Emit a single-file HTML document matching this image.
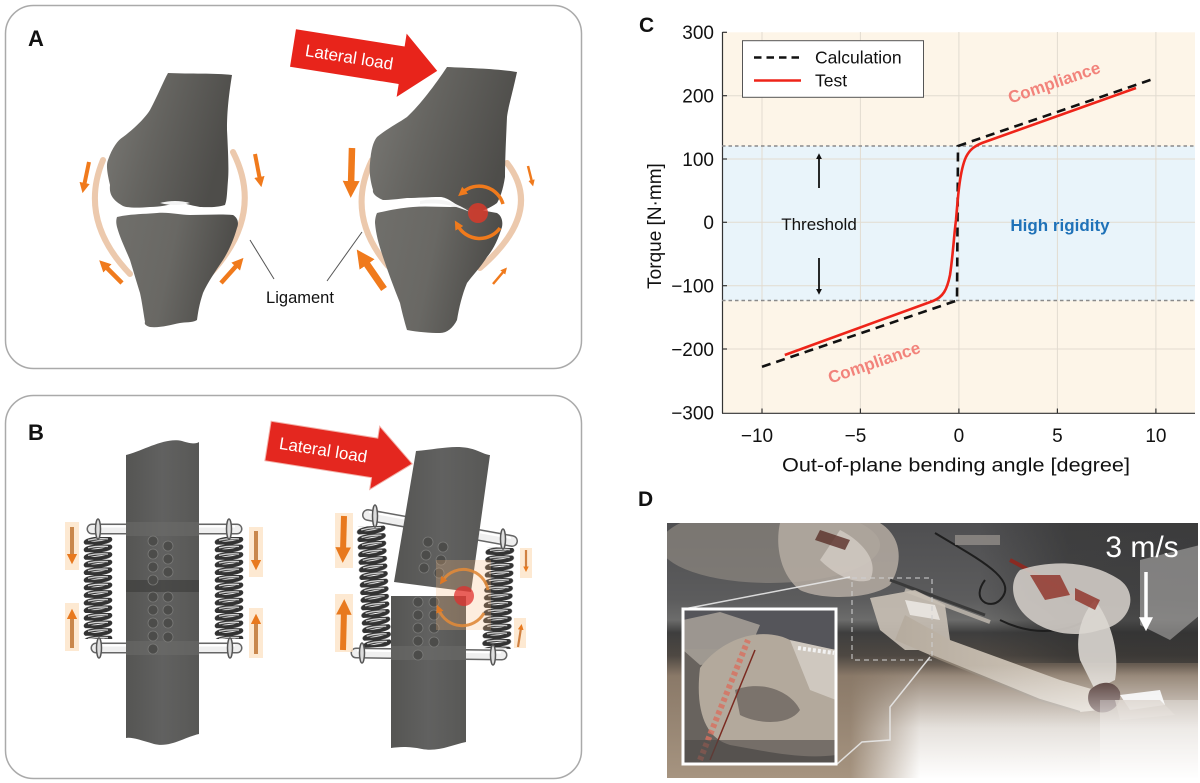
<!DOCTYPE html>
<html><head><meta charset="utf-8">
<style>
html,body{margin:0;padding:0;background:#fff;}
svg{display:block;}
text{font-family:"Liberation Sans",Arial,sans-serif;}
</style></head>
<body>
<svg width="1200" height="783" viewBox="0 0 1200 783" xmlns="http://www.w3.org/2000/svg">
<defs>
  <linearGradient id="bone" x1="0" y1="0" x2="1" y2="0.3">
    <stop offset="0" stop-color="#7c7b77"/>
    <stop offset="0.45" stop-color="#666561"/>
    <stop offset="1" stop-color="#4e4d4a"/>
  </linearGradient>
  <linearGradient id="bone2" x1="0" y1="0" x2="1" y2="0.2">
    <stop offset="0" stop-color="#706f6b"/>
    <stop offset="0.5" stop-color="#696864"/>
    <stop offset="1" stop-color="#4c4b48"/>
  </linearGradient>
  <linearGradient id="rod" x1="0" y1="0" x2="1" y2="0">
    <stop offset="0" stop-color="#555553"/>
    <stop offset="0.5" stop-color="#616160"/>
    <stop offset="1" stop-color="#585856"/>
  </linearGradient>
  <marker id="ah" viewBox="0 0 10 10" refX="3" refY="5" markerWidth="2.6" markerHeight="2.6" orient="auto" markerUnits="strokeWidth">
    <path d="M0,0 L10,5 L0,10 z" fill="#f07a1c"/>
  </marker>
  <marker id="ahb" viewBox="0 0 10 10" refX="3" refY="5" markerWidth="2.6" markerHeight="2.6" orient="auto" markerUnits="strokeWidth">
    <path d="M0,0 L10,5 L0,10 z" fill="#e8791e"/>
  </marker>
  <marker id="ahk" viewBox="0 0 10 10" refX="2" refY="5" markerWidth="6" markerHeight="6" orient="auto" markerUnits="userSpaceOnUse">
    <path d="M0,0 L10,5 L0,10 z" fill="#111"/>
  </marker>
  <marker id="ahw" viewBox="0 0 10 10" refX="2" refY="5" markerWidth="4" markerHeight="4" orient="auto" markerUnits="strokeWidth">
    <path d="M0,0 L10,5 L0,10 z" fill="#fff"/>
  </marker>
  <pattern id="coil" x="0" y="0" width="30" height="7.6" patternUnits="userSpaceOnUse">
    <ellipse cx="15" cy="3.8" rx="12.5" ry="2.4" transform="rotate(-7 15 3.8)" fill="none" stroke="#333" stroke-width="3.8"/>
    <path d="M5,3.2 Q15,0.9 25,1.9" fill="none" stroke="#d8d8d8" stroke-width="1.3"/>
  </pattern>
  <linearGradient id="photoBg" x1="0" y1="0" x2="0" y2="1">
    <stop offset="0" stop-color="#4f4f51"/>
    <stop offset="0.3" stop-color="#5c5c5d"/>
    <stop offset="0.38" stop-color="#6c6c6b"/>
    <stop offset="0.43" stop-color="#3e3e3e"/>
    <stop offset="0.52" stop-color="#4e4842"/>
    <stop offset="0.6" stop-color="#8a7968"/>
    <stop offset="1" stop-color="#a69480"/>
  </linearGradient>
  <linearGradient id="darkTR" x1="0" y1="0" x2="1" y2="0">
    <stop offset="0" stop-color="#2e2e2e" stop-opacity="0"/>
    <stop offset="0.4" stop-color="#2e2e2e" stop-opacity="0.55"/>
    <stop offset="1" stop-color="#2e2e2e" stop-opacity="0.6"/>
  </linearGradient>
  <linearGradient id="fadeV" x1="0" y1="0" x2="0" y2="1">
    <stop offset="0" stop-color="#fff" stop-opacity="0"/>
    <stop offset="0.55" stop-color="#fff" stop-opacity="0.75"/>
    <stop offset="1" stop-color="#fff" stop-opacity="1"/>
  </linearGradient>
  <linearGradient id="fadeH" x1="0" y1="0" x2="1" y2="0">
    <stop offset="0" stop-color="#000"/>
    <stop offset="0.2" stop-color="#fff"/>
    <stop offset="1" stop-color="#fff"/>
  </linearGradient>
  <mask id="fadeMask"><rect x="850" y="660" width="350" height="130" fill="url(#fadeH)"/></mask>
  <clipPath id="photoClip"><rect x="667" y="523" width="531" height="255"/></clipPath>
  <clipPath id="insetClip"><rect x="683" y="609" width="153" height="155"/></clipPath>
  <linearGradient id="legG" x1="0" y1="0" x2="1" y2="0">
    <stop offset="0" stop-color="#b5ab9e"/>
    <stop offset="1" stop-color="#d2c8bb"/>
  </linearGradient>
</defs>

<!-- ================= PANEL A ================= -->
<rect x="5.5" y="5.5" width="576" height="363" rx="28" ry="28" fill="#fff" stroke="#aaa" stroke-width="1.5"/>
<text x="28" y="46" font-size="22" font-weight="bold" fill="#111">A</text>

<path d="M103,160 Q78,220 130,274" fill="none" stroke="#ecc9ad" stroke-width="6" stroke-linecap="round"/>
<path d="M233,152 Q265,215 210,274" fill="none" stroke="#ecc9ad" stroke-width="6" stroke-linecap="round"/>
<path d="M168,73 C190,74 215,73 232,75 C228,100 227,115 227,130 C228,150 229,170 228,180 C227,193 227,200 225,205 C215,208 205,207 200,207 C188,205 182,202 177,203 C168,205 160,207 150,207 C138,208 128,208 123,206 C113,200 109,195 110,185 C107,172 106,165 108,160 C112,148 118,140 123,137 C135,128 145,118 150,110 C158,95 163,82 168,73 Z" fill="url(#bone)"/>
<path d="M117,217 C130,214 145,214 157,213 C170,212 180,215 190,215 C205,215 220,214 233,215 C238,218 239,223 237,228 C233,242 228,252 223,260 C215,272 208,282 203,293 C199,305 198,313 197,320 C192,323 185,322 180,323 C170,325 160,328 150,327 C146,326 144,324 145,322 C143,310 142,302 140,293 C136,280 133,270 130,260 C125,248 120,238 117,227 C116,223 116,220 117,217 Z" fill="url(#bone2)"/>
<path d="M160,203 Q175,199 190,203 Q175,207 160,203 Z" fill="#f4f4f4"/>
<line x1="89" y1="162" x2="84" y2="186" stroke="#f07a1c" stroke-width="4" marker-end="url(#ah)"/>
<line x1="122" y1="283" x2="105" y2="266" stroke="#f07a1c" stroke-width="4.5" marker-end="url(#ah)"/>
<line x1="255" y1="154" x2="260" y2="180" stroke="#f07a1c" stroke-width="4" marker-end="url(#ah)"/>
<line x1="221" y1="283" x2="238" y2="264" stroke="#f07a1c" stroke-width="4.5" marker-end="url(#ah)"/>

<path d="M372,160 Q345,215 388,266" fill="none" stroke="#ecc9ad" stroke-width="6" stroke-linecap="round"/>
<path d="M507,163 Q545,212 480,268" fill="none" stroke="#ecc9ad" stroke-width="6" stroke-linecap="round"/>
<path d="M447,67 C470,68 500,69 517,72 C512,95 508,108 507,117 C506,140 505,160 505,177 C503,190 500,198 497,203 C490,208 482,212 470,213 C465,210 463,208 460,207 C450,200 445,197 440,197 C428,197 418,198 407,198 C398,199 390,200 383,200 C376,197 372,193 373,190 C370,180 369,170 370,163 C371,150 373,142 377,137 C388,128 400,122 407,117 C420,105 435,85 447,67 Z" fill="url(#bone)"/>
<path d="M377,213 C390,210 400,208 413,207 C425,206 438,207 450,207 C465,206 480,210 497,213 C502,216 503,222 502,227 C498,240 493,250 487,257 C480,268 472,276 467,283 C462,295 459,308 457,320 C453,328 447,333 440,333 C430,333 418,332 407,330 C404,320 402,312 400,303 C394,288 388,272 383,257 C379,245 376,235 375,223 C375,219 376,215 377,213 Z" fill="url(#bone2)"/>
<path d="M420,201 Q445,195 470,212 Q445,201 420,204 Z" fill="#f4f4f4"/>
<line x1="352" y1="148" x2="351" y2="186" stroke="#f07a1c" stroke-width="6.5" marker-end="url(#ah)"/>
<line x1="384" y1="289" x2="364" y2="260" stroke="#f07a1c" stroke-width="7" marker-end="url(#ah)"/>
<line x1="528" y1="166" x2="532" y2="182" stroke="#f07a1c" stroke-width="2.5" marker-end="url(#ah)"/>
<line x1="493" y1="284" x2="504" y2="271" stroke="#f07a1c" stroke-width="2.5" marker-end="url(#ah)"/>
<circle cx="478" cy="213" r="10" fill="#d83a2a" opacity="0.85"/>
<path d="M503,204 A25,25 0 0 0 463,192" fill="none" stroke="#f07a1c" stroke-width="3.5" marker-end="url(#ah)"/>
<path d="M500,228 A25,25 0 0 1 458,226" fill="none" stroke="#f07a1c" stroke-width="3.5" marker-end="url(#ah)"/>

<line x1="250" y1="240" x2="274" y2="279" stroke="#555" stroke-width="1"/>
<line x1="362" y1="232" x2="327" y2="281" stroke="#555" stroke-width="1"/>
<text x="300" y="303" font-size="16.5" fill="#111" text-anchor="middle">Ligament</text>

<g transform="translate(293,48) rotate(9)">
  <path d="M0,-19 L110,-19 L110,-32 L146,0 L110,32 L110,19 L0,19 Z" fill="#e8241b"/>
  <text x="57" y="6" font-size="17" fill="#fff" text-anchor="middle">Lateral load</text>
</g>

<!-- ================= PANEL B ================= -->
<rect x="5.5" y="395.5" width="576" height="383" rx="28" ry="28" fill="#fff" stroke="#aaa" stroke-width="1.5"/>
<text x="28" y="440" font-size="22" font-weight="bold" fill="#111">B</text>

<g transform="translate(83,537)"><rect x="0" y="0" width="30" height="102" fill="url(#coil)"/></g>
<g transform="translate(214,537)"><rect x="0" y="0" width="30" height="102" fill="url(#coil)"/></g>
<line x1="92" y1="529" x2="237" y2="529" stroke="#666" stroke-width="11" stroke-linecap="round"/>
<line x1="92" y1="529" x2="237" y2="529" stroke="#efefef" stroke-width="8" stroke-linecap="round"/>
<line x1="94" y1="526.5" x2="235" y2="526.5" stroke="#fff" stroke-width="2"/>
<line x1="96" y1="648" x2="237" y2="648" stroke="#666" stroke-width="11" stroke-linecap="round"/>
<line x1="96" y1="648" x2="237" y2="648" stroke="#efefef" stroke-width="8" stroke-linecap="round"/>
<line x1="98" y1="645.5" x2="235" y2="645.5" stroke="#fff" stroke-width="2"/>
<ellipse cx="98" cy="529" rx="2.5" ry="10" fill="#ddd" stroke="#555" stroke-width="1.5"/>
<ellipse cx="229" cy="529" rx="2.5" ry="10" fill="#ddd" stroke="#555" stroke-width="1.5"/>
<ellipse cx="99" cy="648" rx="2.5" ry="10" fill="#ddd" stroke="#555" stroke-width="1.5"/>
<ellipse cx="230" cy="648" rx="2.5" ry="10" fill="#ddd" stroke="#555" stroke-width="1.5"/>
<path d="M126,455 C145,450 165,437 182,441 C192,444 196,444 199,442 L199,734 C185,737 170,748 154,744 C140,740 132,737 126,738 Z" fill="url(#rod)"/>
<rect x="126" y="522" width="73" height="14" fill="#6e6e6c" opacity="0.5"/>
<rect x="126" y="641" width="73" height="14" fill="#6e6e6c" opacity="0.5"/>
<rect x="126" y="580" width="73" height="12" fill="#3a3a38" opacity="0.6"/>
<g fill="#4c4c4a" stroke="#7a7a78" stroke-width="0.8">
  <circle cx="153" cy="541" r="5"/><circle cx="168" cy="546" r="5"/>
  <circle cx="153" cy="554" r="5"/><circle cx="168" cy="559" r="5"/>
  <circle cx="153" cy="567" r="5"/><circle cx="168" cy="572" r="5"/>
  <circle cx="153" cy="580" r="5"/>
  <circle cx="153" cy="597" r="5"/><circle cx="168" cy="597" r="5"/>
  <circle cx="153" cy="610" r="5"/><circle cx="168" cy="610" r="5"/>
  <circle cx="153" cy="623" r="5"/><circle cx="168" cy="623" r="5"/>
  <circle cx="153" cy="636" r="5"/><circle cx="168" cy="637" r="5"/>
  <circle cx="153" cy="649" r="5"/>
</g>
<rect x="65" y="522" width="14" height="48" fill="#fce3c7" opacity="0.8"/>
<rect x="65" y="603" width="14" height="48" fill="#fce3c7" opacity="0.8"/>
<rect x="249" y="527" width="14" height="50" fill="#fce3c7" opacity="0.8"/>
<rect x="249" y="608" width="14" height="50" fill="#fce3c7" opacity="0.8"/>
<line x1="72" y1="527" x2="72" y2="557" stroke="#c9874c" stroke-width="4" marker-end="url(#ahb)"/>
<line x1="72" y1="648" x2="72" y2="616" stroke="#c9874c" stroke-width="4" marker-end="url(#ahb)"/>
<line x1="256" y1="531" x2="256" y2="563" stroke="#c9874c" stroke-width="4" marker-end="url(#ahb)"/>
<line x1="256" y1="654" x2="256" y2="621" stroke="#c9874c" stroke-width="4" marker-end="url(#ahb)"/>

<g transform="translate(356,527) rotate(-3)"><rect x="0" y="0" width="30" height="121" fill="url(#coil)"/></g>
<g transform="translate(485,547) rotate(2)"><rect x="0" y="0" width="30" height="101" fill="url(#coil)"/></g>
<line x1="368" y1="515" x2="512" y2="541" stroke="#666" stroke-width="12" stroke-linecap="round"/>
<line x1="368" y1="515" x2="512" y2="541" stroke="#efefef" stroke-width="9" stroke-linecap="round"/>
<line x1="369" y1="512" x2="511" y2="538" stroke="#fff" stroke-width="2"/>
<line x1="356" y1="653" x2="502" y2="655" stroke="#666" stroke-width="11" stroke-linecap="round"/>
<line x1="356" y1="653" x2="502" y2="655" stroke="#efefef" stroke-width="8" stroke-linecap="round"/>
<line x1="357" y1="650.5" x2="501" y2="652.5" stroke="#fff" stroke-width="2"/>
<ellipse cx="375" cy="516" rx="2.5" ry="11" fill="#ddd" stroke="#555" stroke-width="1.5"/>
<ellipse cx="503" cy="539" rx="2.5" ry="10" fill="#ddd" stroke="#555" stroke-width="1.5"/>
<ellipse cx="362" cy="653" rx="2.5" ry="10" fill="#ddd" stroke="#555" stroke-width="1.5"/>
<ellipse cx="493" cy="655" rx="2.5" ry="10" fill="#ddd" stroke="#555" stroke-width="1.5"/>
<path d="M416,451 C440,449 460,443 478,451 C485,454 488,455 490,455 L471,592 L394,582 Z" fill="url(#rod)"/>
<path d="M391,596 L466,596 L466,742 C452,745 438,752 422,749 C408,746 398,747 391,748 Z" fill="url(#rod)"/>
<rect x="391" y="646" width="75" height="14" fill="#6e6e6c" opacity="0.5"/>
<g fill="#4c4c4a" stroke="#7a7a78" stroke-width="0.8">
  <circle cx="428" cy="542" r="5"/><circle cx="443" cy="547" r="5"/>
  <circle cx="426" cy="555" r="5"/><circle cx="441" cy="560" r="5"/>
  <circle cx="424" cy="568" r="5"/><circle cx="439" cy="573" r="5"/>
  <circle cx="418" cy="602" r="5"/><circle cx="434" cy="602" r="5"/>
  <circle cx="418" cy="615" r="5"/><circle cx="434" cy="615" r="5"/>
  <circle cx="418" cy="628" r="5"/><circle cx="434" cy="628" r="5"/>
  <circle cx="418" cy="641" r="5"/><circle cx="434" cy="642" r="5"/>
  <circle cx="418" cy="655" r="5"/>
</g>
<rect x="335" y="513" width="18" height="55" fill="#fce3c7" opacity="0.8"/>
<rect x="335" y="594" width="18" height="58" fill="#fce3c7" opacity="0.8"/>
<rect x="520" y="548" width="12" height="30" fill="#fce3c7" opacity="0.8"/>
<rect x="514" y="618" width="12" height="30" fill="#fce3c7" opacity="0.8"/>
<line x1="344" y1="516" x2="343" y2="552" stroke="#e8791e" stroke-width="6" marker-end="url(#ahb)"/>
<line x1="343" y1="650" x2="344" y2="610" stroke="#e8791e" stroke-width="6" marker-end="url(#ahb)"/>
<line x1="526" y1="550" x2="526" y2="568" stroke="#d08040" stroke-width="2.2" marker-end="url(#ahb)"/>
<line x1="518" y1="647" x2="521" y2="628" stroke="#d08040" stroke-width="2.2" marker-end="url(#ahb)"/>
<rect x="436" y="560" width="55" height="70" fill="#f6b87a" opacity="0.25"/>
<circle cx="464" cy="596" r="10" fill="#e0302e" opacity="0.75"/>
<path d="M488,590 A25,25 0 0 0 443,580" fill="none" stroke="#e08a3a" stroke-width="3" marker-end="url(#ahb)" opacity="0.9"/>
<path d="M484,613 A25,25 0 0 1 439,610" fill="none" stroke="#e08a3a" stroke-width="3" marker-end="url(#ahb)" opacity="0.9"/>

<g transform="translate(268,441) rotate(9)">
  <path d="M0,-20 L108,-20 L108,-32 L146,0 L108,32 L108,20 L0,20 Z" fill="#e4271f" stroke="#f3b0a8" stroke-width="1"/>
  <text x="56" y="6" font-size="17" fill="#fff" text-anchor="middle">Lateral load</text>
</g>

<!-- ================= PANEL C ================= -->
<text x="639" y="32" font-size="21" font-weight="bold" fill="#111">C</text>
<rect x="722.5" y="32.3" width="472.5" height="381" fill="#fdf5e8"/>
<rect x="722.5" y="146" width="472.5" height="154.5" fill="#e9f4fa"/>
<g stroke="#e2dbd0" stroke-width="1">
  <line x1="762" y1="32" x2="762" y2="413"/>
  <line x1="860.4" y1="32" x2="860.4" y2="413"/>
  <line x1="958.9" y1="32" x2="958.9" y2="413"/>
  <line x1="1057.4" y1="32" x2="1057.4" y2="413"/>
  <line x1="1155.9" y1="32" x2="1155.9" y2="413"/>
  <line x1="722" y1="95.7" x2="1195" y2="95.7"/>
  <line x1="722" y1="159" x2="1195" y2="159"/>
  <line x1="722" y1="222.3" x2="1195" y2="222.3"/>
  <line x1="722" y1="285.7" x2="1195" y2="285.7"/>
  <line x1="722" y1="349" x2="1195" y2="349"/>
</g>
<line x1="722.5" y1="32" x2="722.5" y2="413.3" stroke="#333" stroke-width="1.2"/>
<line x1="722" y1="413.3" x2="1195" y2="413.3" stroke="#333" stroke-width="1.2"/>
<g stroke="#333" stroke-width="1.2">
  <line x1="722.5" y1="32.3" x2="727" y2="32.3"/>
  <line x1="722.5" y1="95.7" x2="727" y2="95.7"/>
  <line x1="722.5" y1="159" x2="727" y2="159"/>
  <line x1="722.5" y1="222.3" x2="727" y2="222.3"/>
  <line x1="722.5" y1="285.7" x2="727" y2="285.7"/>
  <line x1="722.5" y1="349" x2="727" y2="349"/>
  <line x1="762" y1="413" x2="762" y2="408.5"/>
  <line x1="860.4" y1="413" x2="860.4" y2="408.5"/>
  <line x1="958.9" y1="413" x2="958.9" y2="408.5"/>
  <line x1="1057.4" y1="413" x2="1057.4" y2="408.5"/>
  <line x1="1155.9" y1="413" x2="1155.9" y2="408.5"/>
</g>
<line x1="722" y1="146" x2="1195" y2="146" stroke="#8a8a8a" stroke-width="1.6" stroke-dasharray="3.5,3"/>
<line x1="722" y1="300.5" x2="1195" y2="300.5" stroke="#8a8a8a" stroke-width="1.6" stroke-dasharray="3.5,3"/>
<g font-size="19" fill="#111" text-anchor="end">
  <text x="714" y="39">300</text>
  <text x="714" y="102.5">200</text>
  <text x="714" y="166">100</text>
  <text x="714" y="229">0</text>
  <text x="714" y="292.5">−100</text>
  <text x="714" y="356">−200</text>
  <text x="714" y="419.5">−300</text>
</g>
<g font-size="19" fill="#111" text-anchor="middle">
  <text x="757" y="442">−10</text>
  <text x="855.5" y="442">−5</text>
  <text x="958.9" y="442">0</text>
  <text x="1057.4" y="442">5</text>
  <text x="1155.9" y="442">10</text>
</g>
<text x="782" y="471.5" font-size="19" fill="#111" textLength="348" lengthAdjust="spacingAndGlyphs">Out-of-plane bending angle [degree]</text>
<text transform="translate(661,226) rotate(-90)" font-size="19" fill="#111" text-anchor="middle">Torque [N·mm]</text>

<text transform="translate(1056,88) rotate(-19)" font-size="17" font-weight="bold" fill="#f2837b" text-anchor="middle">Compliance</text>
<text transform="translate(876,368) rotate(-19)" font-size="17" font-weight="bold" fill="#f2837b" text-anchor="middle">Compliance</text>
<text x="1060" y="231" font-size="17" font-weight="bold" fill="#1f72b8" text-anchor="middle">High rigidity</text>
<text x="819" y="230" font-size="17" fill="#111" text-anchor="middle">Threshold</text>
<line x1="819" y1="188" x2="819" y2="158" stroke="#111" stroke-width="1.8" marker-end="url(#ahk)"/>
<line x1="819" y1="258" x2="819" y2="290" stroke="#111" stroke-width="1.8" marker-end="url(#ahk)"/>

<path d="M762,366.8 L957,300.5 L958,146 L1156,78" fill="none" stroke="#111" stroke-width="2.6" stroke-dasharray="9,6"/>
<path d="M784.8,355 L933,301 C943,297 947,290 950,275 C953,255 954,235 956,220 C958,195 960,170 966,157 C970,149 975,146 982,143 L1136,88" fill="none" stroke="#ee2419" stroke-width="2.6"/>

<rect x="742.5" y="40.7" width="181" height="56.6" fill="#fff" stroke="#555" stroke-width="1"/>
<line x1="754" y1="57.5" x2="801" y2="57.5" stroke="#111" stroke-width="2.6" stroke-dasharray="7.5,5"/>
<line x1="754" y1="80.5" x2="801" y2="80.5" stroke="#ee2419" stroke-width="2.6"/>
<text x="815" y="63.5" font-size="17.5" fill="#111">Calculation</text>
<text x="815" y="86.5" font-size="17.5" fill="#111">Test</text>

<!-- ================= PANEL D ================= -->
<text x="638" y="506" font-size="21" font-weight="bold" fill="#111">D</text>
<g clip-path="url(#photoClip)">
  <rect x="667" y="523" width="531" height="255" fill="url(#photoBg)"/>
  <rect x="980" y="523" width="220" height="140" fill="url(#darkTR)"/>
  <ellipse cx="770" cy="545" rx="110" ry="38" fill="#8d8780" opacity="0.7"/>
  <path d="M780,523 L880,523 C900,535 905,560 890,585 C870,600 820,600 800,590 C780,575 775,545 780,523 Z" fill="#b5aca2" opacity="0.85"/>
  <path d="M840,530 C860,540 880,560 870,580 C855,585 835,575 820,560 Z" fill="#d8d2cb" opacity="0.7"/>
  <path d="M820,530 L850,540 L845,550 L815,540 Z" fill="#5a3028" opacity="0.8"/>
  <path d="M890,580 L985,615" stroke="#3a3a3a" stroke-width="3" fill="none"/>
  <path d="M905,590 L990,622" stroke="#b0aaa2" stroke-width="4" fill="none"/>
  <path d="M935,533 C980,560 1020,580 1000,600 C990,610 970,600 985,580" stroke="#1e1e1e" stroke-width="2" fill="none"/>
  <path d="M1010,560 C1040,575 1060,590 1080,600" stroke="#8a2a22" stroke-width="4" fill="none"/>
  <path d="M1000,620 C1040,640 1080,630 1100,610" stroke="#1e1e1e" stroke-width="2" fill="none"/>
  <path d="M955,540 L1000,540" stroke="#9b9590" stroke-width="10" fill="none" opacity="0.7"/>
  <path d="M870,598 L915,590 L945,605 L950,640 L930,650 L905,650 L880,630 Z" fill="#c9c0b5" opacity="0.9"/>
  <path d="M905,600 L935,605 L940,620 L910,615 Z" fill="#e6e2dd"/>
  <path d="M905,615 L950,640 L1060,680 L1095,690 L1100,710 L1080,712 L1040,700 L930,655 L895,640 Z" fill="url(#legG)"/>
  <path d="M930,655 L1040,700 L1080,712" stroke="#8a7e70" stroke-width="2" fill="none"/>
  <path d="M1020,570 C1050,560 1090,560 1120,580 C1140,595 1130,625 1100,630 C1070,640 1040,630 1025,615 C1010,600 1010,580 1020,570 Z" fill="#d0cbc5" opacity="0.9"/>
  <path d="M1140,560 L1200,545 L1200,615 L1170,640 L1140,625 Z" fill="#c4c2c0" opacity="0.5"/>
  <path d="M1095,600 C1110,620 1120,650 1115,680 L1095,690 L1080,660 C1075,640 1080,615 1095,600 Z" fill="#dcd7d1" opacity="0.9"/>
  <path d="M1030,575 L1060,575 L1070,595 L1045,600 Z" fill="#8e2f25" opacity="0.8"/>
  <path d="M1075,588 L1100,600 L1095,610 L1075,600 Z" fill="#8e2f25" opacity="0.8"/>
  <path d="M1090,690 C1100,680 1115,680 1120,692 C1122,705 1110,715 1098,712 C1088,708 1086,698 1090,690 Z" fill="#3a1e1a"/>
  <path d="M1120,695 L1160,690 L1165,705 L1130,710 Z" fill="#efefef"/>
  <path d="M1115,700 L1160,700 L1175,715 L1120,720 Z" fill="#a89684" opacity="0.8"/>
  <rect x="852" y="578" width="80" height="82" fill="none" stroke="#cfcfcf" stroke-width="1.5" stroke-dasharray="5,4" opacity="0.7"/>
  <rect x="850" y="665" width="350" height="115" fill="url(#fadeV)" mask="url(#fadeMask)"/>
  <rect x="1100" y="700" width="100" height="80" fill="#fff" opacity="0.3"/>
</g>
<line x1="684" y1="609" x2="850" y2="577" stroke="#e8e8e8" stroke-width="1.5" opacity="0.9"/>
<polyline points="836,765 862,742 890,740 890,707 930,657" fill="none" stroke="#e8e8e8" stroke-width="1.5" opacity="0.9"/>
<g clip-path="url(#insetClip)">
  <rect x="683" y="609" width="153" height="155" fill="#68635e"/>
  <rect x="683" y="609" width="153" height="40" fill="#55555a"/>
  <path d="M683,620 L720,612 L760,625 L745,660 L700,665 L683,650 Z" fill="#a9a29a" opacity="0.85"/>
  <path d="M700,668 C720,640 760,625 790,640 C810,650 830,680 836,700 L836,755 C800,760 760,750 730,745 C705,738 695,710 700,668 Z" fill="#b3a99c"/>
  <path d="M790,640 L836,650 L836,700 L810,690 Z" fill="#cfc8bf"/>
  <path d="M798,648 L834,653" stroke="#f2f2f2" stroke-width="4" stroke-dasharray="3,2"/>
  <path d="M735,690 C760,680 790,690 800,710 C790,725 760,725 740,715 Z" fill="#6d6560" opacity="0.8"/>
  <path d="M700,760 L748,640" stroke="#d9705f" stroke-width="6" stroke-dasharray="4,3" opacity="0.8"/>
  <path d="M710,760 L755,650" stroke="#7a2a20" stroke-width="1.5"/>
  <rect x="683" y="740" width="153" height="25" fill="#4b4846" opacity="0.6"/>
</g>
<rect x="683" y="609" width="153" height="155" fill="none" stroke="#fff" stroke-width="3"/>
<text x="1142" y="557" font-size="30" fill="#fff" text-anchor="middle">3 m/s</text>
<line x1="1146" y1="572" x2="1146" y2="620" stroke="#fff" stroke-width="3.5" marker-end="url(#ahw)"/>
</svg>
</body></html>
